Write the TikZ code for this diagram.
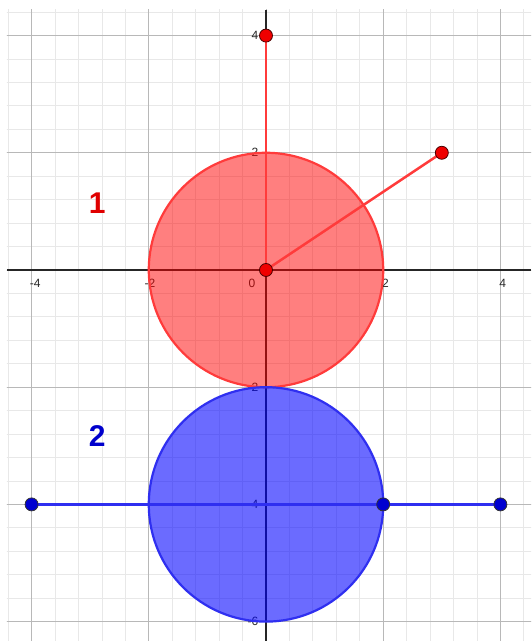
\documentclass[tikz,border=0pt]{standalone}
\usepackage{fontspec}
\setmainfont{Liberation Sans}
\definecolor{minorg}{HTML}{E8E8E8}
\definecolor{majorg}{HTML}{B8B8B8}
\definecolor{redline}{HTML}{FF3B3B}
\definecolor{redfill}{HTML}{FF0000}
\definecolor{bluefill}{HTML}{0000FF}
\definecolor{blueline}{HTML}{2F2FF0}
\definecolor{reddot}{HTML}{F00000}
\definecolor{bluedot}{HTML}{0000D0}
\definecolor{labred}{HTML}{E00000}
\definecolor{labblue}{HTML}{0000CC}
\tikzset{
  minorgrid/.style={draw=minorg, line width=0.8pt},
  majorgrid/.style={draw=majorg, line width=0.9pt},
  axisline/.style={draw=black!85, line width=1.2pt},
  ticklab/.style={font=\fontsize{12}{12}\selectfont, text=black!85, inner sep=0pt},
  redseg/.style={draw=redline, line width=2.5pt},
  blueseg/.style={draw=blueline, line width=2.5pt},
  redcirc/.style={draw=redline, line width=2.2pt, fill=redfill, fill opacity=0.5},
  bluecirc/.style={draw=blueline, line width=2.2pt, fill=bluefill, fill opacity=0.58},
  rdot/.style={circle, fill=reddot, draw=black!70!red, line width=0.8pt, minimum size=13pt, inner sep=0pt},
  bdot/.style={circle, fill=bluedot, draw=black!80, line width=0.8pt, minimum size=13pt, inner sep=0pt},
  biglab/.style={font=\bfseries\fontsize{30}{30}\selectfont, inner sep=0pt}
}
\begin{document}
\begin{tikzpicture}[x=58.6pt, y=58.6pt]
\useasboundingbox (-4.539,-6.331) rectangle (4.522,4.607);
\fill[white] (-4.539,-6.331) rectangle (4.522,4.607);
% grid
\begin{scope}
  \clip (-4.42,-6.331) rectangle (4.522,4.437);
  \draw[minorgrid] (-4.8,-6.8) grid[step=0.4] (4.8,4.8);
  \draw[majorgrid] (-6,-8) grid[step=2] (6,6);
\end{scope}
% axes
\draw[axisline] (-4.42,0) -- (4.522,0);
\draw[axisline] (0,-6.331) -- (0,4.437);
% tick labels
\node[ticklab, anchor=north] (xm4) at (-3.94,-0.15) {-4};
\node[ticklab, anchor=north] (xm2) at (-1.98,-0.15) {-2};
\node[ticklab, anchor=north] (x0) at (-0.24,-0.15) {0};
\node[ticklab, anchor=north] (x2) at (2.04,-0.15) {2};
\node[ticklab, anchor=north] (x4) at (4.04,-0.15) {4};
\node[ticklab, anchor=east] (y4) at (-0.13,4) {4};
\node[ticklab, anchor=east] (y2) at (-0.13,2) {2};
\node[ticklab, anchor=east] (ym2) at (-0.13,-2) {-2};
\node[ticklab, anchor=east] (ym4) at (-0.13,-4) {-4};
\node[ticklab, anchor=east] (ym6) at (-0.13,-6) {-6};
% circles
\draw[redcirc] (0,0) circle[radius=2];
\draw[bluecirc] (0,-4) circle[radius=2];
% points
\coordinate (O) at (0,0);
\coordinate (A) at (0,4);
\coordinate (B) at (3,2);
\coordinate (C) at (-4,-4);
\coordinate (D) at (2,-4);
\coordinate (E) at (4,-4);
% segments
\draw[redseg] (O) -- (A);
\draw[redseg] (O) -- (B);
\draw[blueseg] (C) -- (E);
% dots
\node[rdot] (Odot) at (O) {};
\node[rdot] (Adot) at (A) {};
\node[rdot] (Bdot) at (B) {};
\node[bdot] (Cdot) at (C) {};
\node[bdot] (Ddot) at (D) {};
\node[bdot] (Edot) at (E) {};
% labels
\node[biglab, text=labred] (lab1) at (-2.88,1.14) {1};
\node[biglab, text=labblue] (lab2) at (-2.88,-2.84) {2};
\end{tikzpicture}
\end{document}
